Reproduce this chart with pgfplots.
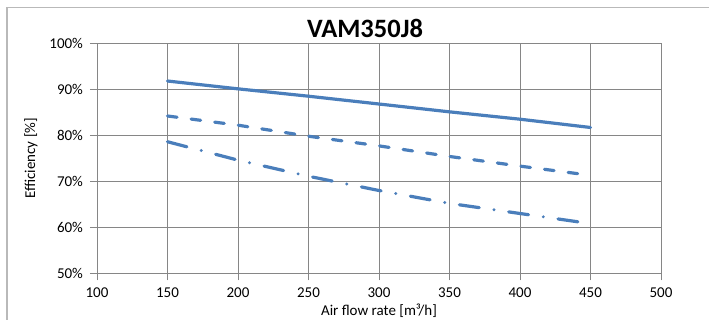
\documentclass[border=0pt]{standalone}
\usepackage{pgfplots}
\pgfplotsset{compat=1.18}
\usepackage{fontspec}
\setmainfont{Carlito}
\definecolor{ser}{RGB}{74,126,187}
\definecolor{grd}{RGB}{134,134,134}
\definecolor{frm}{RGB}{185,185,185}
\begin{document}
\begin{tikzpicture}[x=1pt,y=1pt]
\useasboundingbox (-97,-45.7) rectangle (612,273.3);
\draw[frm, line width=1.5pt] (-90,-50) -- (-90,265.6) -- (620,265.6);
\node[font=\fontsize{26.5}{30}\selectfont\bfseries, anchor=center] at (268,245) {VAM350J8};
\begin{axis}[at={(0,0)}, anchor=south west, scale only axis,
  width=564pt, height=230pt,
  xmin=100, xmax=500, ymin=50, ymax=100,
  xtick={100,150,...,500}, ytick={50,60,...,100},
  /pgf/number format/assume math mode=true,
  yticklabel={\pgfmathprintnumber{\tick}\%},
  grid=major, grid style={grd, line width=0.9pt},
  axis line style={grd, line width=0.9pt},
  tick style={grd, line width=0.9pt},
  major tick length=7pt, tick align=outside, tick pos=left,
  ticklabel style={font=\fontsize{15}{16}\selectfont, text=black},
  yticklabel style={xshift=-3.5pt},
  xticklabel style={yshift=-4pt},
  label style={font=\fontsize{15}{16}\selectfont},
  xlabel={Air flow rate [m³/h]},
  xlabel style={yshift=1pt},
  ylabel={Efficiency [\%]},
  ylabel style={yshift=5pt},
  clip=false,
]
\addplot[ser, line width=3.2pt, line cap=round] coordinates {(150,91.8)(200,90.1)(250,88.5)(300,86.8)(350,85.1)(400,83.5)(450,81.7)};
\addplot[ser, line width=3.2pt, line cap=round, dash pattern=on 9.6pt off 14.2pt] coordinates {(150,84.2)(200,82.2)(250,79.8)(300,77.7)(350,75.4)(400,73.3)(450,71.3)};
\addplot[ser, line width=3.2pt, line cap=round, dash pattern=on 20pt off 14.9pt on 0pt off 14.9pt] coordinates {(150,78.6)(200,74.6)(250,71.1)(300,68.0)(350,65.2)(400,63.0)(450,60.8)};
\end{axis}
\end{tikzpicture}
\end{document}
